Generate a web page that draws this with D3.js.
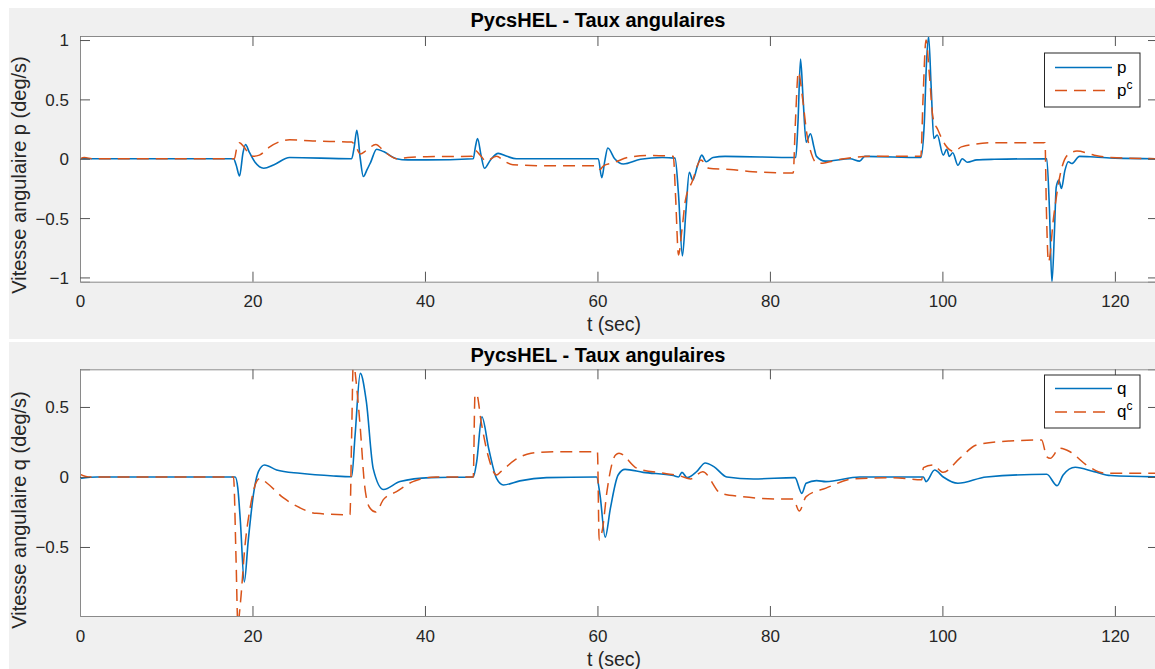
<!DOCTYPE html>
<html><head><meta charset="utf-8">
<script src="https://cdn.jsdelivr.net/npm/d3@7"></script>
<style>
html,body{margin:0;padding:0;background:#fff;}
text{font-family:"Liberation Sans",Arial,Helvetica,sans-serif;}
</style></head>
<body>
<svg id="c" width="1155" height="669"></svg>
<script>
// ---- data (t in sec, value in deg/s) ----
const titleText = "PycsHEL - Taux angulaires";
const xTicks = [0, 20, 40, 60, 80, 100, 120];
const pTicks = [-1, -0.5, 0, 0.5, 1];
const qTicks = [-0.5, 0, 0.5];

const pSeries = [[0,0],[17.8,0],[18.1,-0.05],[18.5,-0.146],[18.9,0.05],[19.2,0.12],[19.6,0.06],[20.3,-0.03],[21.3,-0.08],[22.5,-0.05],[24.3,0.01],[31.5,0],[31.8,0.1],[32.1,0.24],[32.5,0.0],[32.85,-0.15],[33.3,-0.09],[33.7,-0.03],[34.4,0.08],[35.2,0.06],[36.7,0.0],[38,-0.01],[40.2,-0.01],[45.6,0],[45.85,0.1],[46.1,0.17],[46.5,0.03],[46.9,-0.08],[47.6,-0.01],[48.5,0.045],[49.5,0.02],[50.6,0],[60.1,0],[60.5,-0.16],[60.85,-0.02],[61.2,0.09],[62,0.0],[63,-0.045],[65,-0.005],[67.5,0.01],[69.0,0.005],[69.4,-0.3],[69.85,-0.82],[70.25,-0.45],[70.65,-0.115],[71.05,-0.18],[71.6,-0.06],[72.1,0.03],[72.6,-0.025],[73.4,0.01],[74.8,0.02],[83.0,0.01],[83.25,0.3],[83.55,0.84],[83.85,0.5],[84.2,0.14],[84.7,0.21],[85.1,0.1],[85.4,0.02],[86.4,-0.02],[89.3,0],[90.4,-0.02],[91,0.02],[97.5,0.01],[97.9,0.3],[98.15,0.8],[98.4,1.03],[98.7,0.6],[99.0,0.17],[99.4,0.2],[100.1,0.03],[100.5,0.08],[100.8,0.02],[101.2,0.05],[101.8,-0.055],[102.3,0.0],[102.9,-0.03],[104,-0.01],[106,-0.005],[112.1,0],[112.4,-0.4],[112.7,-1.04],[113.0,-0.6],[113.2,-0.24],[113.5,-0.18],[113.8,-0.25],[114.2,-0.1],[114.6,-0.025],[115,-0.04],[115.9,0.02],[117.6,0.015],[120,0.005],[125,0]];

const pcSeries = [[0,0],[0.5,0.01],[1.5,0],[17.9,0],[18.2,0.1],[18.5,0.135],[19.0,0.1],[19.6,0.04],[20.1,0.02],[20.8,0.03],[22,0.1],[24.3,0.16],[27,0.15],[31.5,0.14],[32.0,0.1],[32.5,0.04],[33.2,0.07],[34.3,0.12],[35.3,0.06],[36.7,0.0],[38,0.01],[40.2,0.017],[45.5,0.02],[45.8,0.07],[46.4,0.03],[47.1,-0.02],[48.3,0.02],[49.2,-0.02],[50.2,-0.05],[55,-0.06],[60,-0.06],[60.3,-0.09],[60.7,-0.06],[61.8,-0.035],[63.8,0.015],[66.1,0.028],[68.8,0.02],[69.05,-0.3],[69.4,-0.81],[69.8,-0.6],[70.2,-0.35],[71,-0.19],[72,-0.01],[72.9,-0.08],[75.4,-0.09],[78,-0.11],[82.7,-0.12],[82.95,0.3],[83.3,0.73],[83.8,0.5],[84.3,0.2],[84.8,0.045],[85.5,-0.04],[88.6,0],[91.7,0.02],[97.5,0.02],[97.75,0.5],[98.1,1.0],[98.5,0.7],[98.9,0.35],[99.5,0.24],[100.3,0.12],[101.4,0.06],[102.2,0.1],[106.1,0.135],[111.9,0.135],[112.05,-0.4],[112.3,-0.87],[112.9,-0.49],[113.7,-0.12],[114.5,0.03],[115.6,0.065],[117.6,0.03],[119.5,0.01],[125,0]];

const qSeries = [[0,-0.01],[2,0],[18.0,0],[18.3,-0.08],[18.6,-0.32],[19.05,-0.75],[19.5,-0.46],[20.1,-0.13],[20.7,0.04],[21.4,0.086],[22.8,0.05],[25.5,0.026],[29.4,0.007],[31.5,0.002],[31.9,0.3],[32.5,0.74],[33.2,0.54],[34.0,0.06],[35.2,-0.09],[37.1,-0.033],[40.6,-0.005],[45.6,0],[46,0.11],[46.6,0.43],[47.4,0.2],[48.3,-0.01],[49.1,-0.057],[51,-0.028],[54.1,-0.005],[59.9,0],[60.3,-0.13],[60.9,-0.43],[61.5,-0.224],[62.4,0.014],[63.2,0.054],[65.3,0.033],[68.8,0.01],[69.4,0],[69.8,0.033],[70.4,-0.005],[71.5,0.038],[72.5,0.1],[73.5,0.074],[75,0.0],[78.1,-0.014],[82.9,-0.005],[83.7,-0.117],[84.2,-0.045],[85.4,-0.026],[86.5,-0.033],[90.4,0],[97.8,0],[98.1,-0.033],[99.1,0.05],[100.1,0],[101.8,-0.045],[105.1,0],[112.1,0.019],[113.3,-0.062],[114,0.014],[115.4,0.069],[117.6,0.038],[119.5,0.01],[125,0]];

const qcSeries = [[0,0.02],[1,0],[17.8,0],[18.1,-0.6],[18.3,-1.05],[18.6,-0.9],[19.1,-0.51],[19.7,-0.23],[20.5,-0.03],[20.9,-0.01],[21.7,-0.045],[23.6,-0.15],[25.5,-0.22],[27.4,-0.26],[31.3,-0.27],[31.5,0.3],[31.7,0.85],[31.9,0.75],[32.5,0.35],[33.0,-0.06],[33.6,-0.22],[34.3,-0.25],[35.2,-0.16],[36.7,-0.105],[38.6,-0.033],[41.3,0],[45.6,0],[45.8,0.59],[46,0.59],[46.5,0.4],[47.3,0.157],[48.3,0.014],[48.8,0.038],[50.4,0.12],[52.3,0.169],[55,0.181],[60,0.18],[60.2,-0.45],[60.6,-0.367],[61.1,-0.105],[62.1,0.157],[62.5,0.17],[64.6,0.062],[67.7,0.026],[69.6,0.007],[70.8,-0.014],[72.2,0.038],[74.3,-0.117],[76.6,-0.14],[81.2,-0.157],[82.7,-0.157],[83.4,-0.243],[84.2,-0.14],[86.5,-0.08],[89.6,-0.014],[94.3,-0.005],[97.6,-0.02],[97.8,0.067],[98.9,0.086],[100.1,0.033],[102,0.133],[104,0.229],[107.8,0.257],[111.5,0.264],[112.1,0.145],[112.5,0.133],[113.6,0.205],[114.8,0.18],[116.7,0.086],[119,0.026],[125,0.026]];

// ---- drawing ----
const svg = d3.select("#c");
const BLUE = "#0072BD", ORANGE = "#D95319";
const DASH = "12,7";

function panel(cfg) {
  const g = svg.append("g");
  g.append("rect").attr("x", 9).attr("y", cfg.figTop).attr("width", 1146).attr("height", cfg.figH).attr("fill", "#f0f0f0");
  const x = d3.scaleLinear().domain([0, 125]).range([80, 1158]);
  const y = d3.scaleLinear().domain(cfg.yDomain).range([cfg.axB, cfg.axT]);
  g.append("rect").attr("x", 80).attr("y", cfg.axT).attr("width", 1078).attr("height", cfg.axB - cfg.axT).attr("fill", "#fff");

  const clipId = "clip" + cfg.id;
  svg.append("defs").append("clipPath").attr("id", clipId).append("rect")
    .attr("x", 80).attr("y", cfg.axT).attr("width", 1078).attr("height", cfg.axB - cfg.axT);

  const line = d3.line().x(d => x(d[0])).y(d => y(d[1])).curve(d3.curveMonotoneX);
  const lg = g.append("g").attr("clip-path", `url(#${clipId})`);
  lg.append("path").datum(cfg.meas).attr("d", line).attr("fill", "none").attr("stroke", BLUE).attr("stroke-width", 1.6);
  lg.append("path").datum(cfg.cmd).attr("d", line).attr("fill", "none").attr("stroke", ORANGE).attr("stroke-width", 1.5).attr("stroke-dasharray", DASH);

  const axColor = "#8a8a8a", tkColor = "#262626";
  const tl = 10;
  const bottom = g.append("g").attr("transform", `translate(0,${cfg.axB})`).call(d3.axisBottom(x).tickValues(xTicks).tickSize(-tl).tickPadding(0).tickFormat(d3.format("d")));
  const top = g.append("g").attr("transform", `translate(0,${cfg.axT})`).call(d3.axisTop(x).tickValues(xTicks).tickSize(-tl).tickFormat(""));
  const left = g.append("g").attr("transform", `translate(80,0)`).call(d3.axisLeft(y).tickValues(cfg.yTicks).tickSize(-tl).tickFormat(d => d3.format("")(d)));
  const right = g.append("g").attr("transform", `translate(1158,0)`).call(d3.axisRight(y).tickValues(cfg.yTicks).tickSize(-tl).tickFormat(""));
  [bottom, top, left, right].forEach(a => {
    a.select(".domain").attr("stroke", axColor).attr("stroke-width", 1);
    a.selectAll(".tick line").attr("stroke", "#555").attr("stroke-width", 1);
    a.selectAll(".tick text").attr("fill", tkColor).style("font-size", "17px").style("font-family", '"Liberation Sans",Arial,sans-serif');
  });
  bottom.selectAll(".tick text").attr("y", 0).attr("dy", null).attr("transform", `translate(0,${cfg.tickBase - cfg.axB})`);
  left.selectAll(".tick text").attr("x", -11).attr("dy", "0.35em");

  g.append("text").attr("x", 598).attr("y", cfg.titleBase).attr("text-anchor", "middle")
    .style("font-size", "20px").style("font-weight", "bold").attr("fill", "#000").text(titleText);
  g.append("text").attr("x", 614).attr("y", cfg.xlabBase).attr("text-anchor", "middle")
    .style("font-size", "19.5px").attr("fill", tkColor).text("t (sec)");
  g.append("text").attr("transform", `translate(26,${cfg.ylabMid}) rotate(-90)`).attr("text-anchor", "middle")
    .style("font-size", "20px").attr("fill", tkColor).text(`Vitesse angulaire ${cfg.name} (deg/s)`);

  const L = cfg.leg;
  g.append("rect").attr("x", 1044.5).attr("y", L.top).attr("width", 95.5).attr("height", L.h).attr("fill", "#fff").attr("stroke", "#262626").attr("stroke-width", 1);
  const rows = [{c: BLUE, dash: null, sup: false, y: L.r1, w: 1.6}, {c: ORANGE, dash: DASH, sup: true, y: L.r2, w: 1.5}];
  rows.forEach(r => {
    g.append("line").attr("x1", 1055).attr("x2", 1112).attr("y1", r.y).attr("y2", r.y)
      .attr("stroke", r.c).attr("stroke-width", r.w).attr("stroke-dasharray", r.dash);
    const t = g.append("text").attr("x", 1117).attr("y", r.y + 5).style("font-size", "17px").attr("fill", "#000");
    t.append("tspan").text(cfg.name);
    if (r.sup) t.append("tspan").attr("dy", -7).style("font-size", "12px").text("c");
  });
}

panel({id: 1, name: "p", figTop: 8, figH: 331, axT: 36, axB: 281.7, yDomain: [-1.036, 1.034], yTicks: pTicks,
  meas: pSeries, cmd: pcSeries, tickBase: 307, titleBase: 27, xlabBase: 331, ylabMid: 175,
  leg: {top: 53, h: 54, r1: 67.5, r2: 90.5}});
panel({id: 2, name: "q", figTop: 342, figH: 327, axT: 369.3, axB: 616, yDomain: [-0.993, 0.769], yTicks: qTicks,
  meas: qSeries, cmd: qcSeries, tickBase: 642, titleBase: 362, xlabBase: 666, ylabMid: 510,
  leg: {top: 375, h: 53, r1: 388.5, r2: 412}});
</script>
</body></html>
